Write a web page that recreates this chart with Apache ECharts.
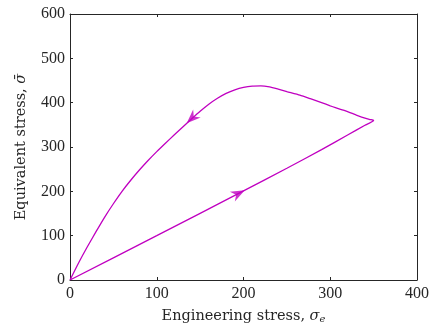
<!DOCTYPE html>
<html>
<head>
<meta charset="utf-8">
<script src="https://cdn.jsdelivr.net/npm/echarts@6/dist/echarts.min.js"></script>
<style>html,body{margin:0;padding:0;background:#fff}#c{width:432px;height:331px}</style>
</head>
<body>
<div id="c"></div>
<script>
// Loading path (engineering stress, equivalent stress)
var loadX = [0, 100, 200, 250, 290, 320, 340, 350];
var loadY = [0, 100, 201, 252, 294, 327, 349, 360];
// Unloading path
var unloadX = [350, 346, 342, 330, 315, 300, 290, 277, 265, 250, 240, 230, 220, 210, 200, 190, 180, 170, 160, 150, 140, 130, 120, 110, 100, 90, 80, 70, 60, 50, 40, 30, 20, 10, 0];
var unloadY = [360, 362, 364, 372, 383, 393, 400, 409, 417, 425, 430.5, 435.5, 438, 437.5, 434.5, 429, 421, 410, 396.5, 380.5, 363, 345, 327, 308.5, 289.5, 269.5, 248, 225, 200, 172, 142, 109, 75, 39, 0];
// Arrow markers (centre x, centre y, rotation in degrees)
var arrowX = [194.3, 140.4];
var arrowY = [195.3, 364.6];
var arrowRot = [-63, 133];

var xTicks = [0, 100, 200, 300, 400];
var yTicks = [0, 100, 200, 300, 400, 500, 600];

var color = '#c000c0';
var axisColor = '#262626';
var tickFont = 'Liberation Serif';
var nameFont = 'DejaVu Serif';

var path = [];
for (var i = 0; i < loadX.length; i++) path.push([loadX[i], loadY[i]]);
for (var j = 1; j < unloadX.length; j++) path.push([unloadX[j], unloadY[j]]);

var arrows = arrowX.map(function (x, k) {
  return { value: [x, arrowY[k]], symbolRotate: arrowRot[k] };
});

function axisBase(show, ticks) {
  return {
    type: 'value',
    min: ticks[0],
    max: ticks[ticks.length - 1],
    interval: ticks[1] - ticks[0],
    axisLine: { show: true, onZero: false, lineStyle: { color: axisColor, width: 1 } },
    axisTick: { show: true, inside: true, length: 3, lineStyle: { color: axisColor } },
    splitLine: { show: false },
    axisLabel: { show: show, color: axisColor, fontFamily: tickFont, fontSize: 16 }
  };
}

var xb = axisBase(true, xTicks);
xb.position = 'bottom';
xb.axisLabel.margin = 6;
xb.name = '{n|Engineering stress, }{s|σ}{e|e}';
xb.nameLocation = 'middle';
xb.nameGap = 23;
xb.nameTextStyle = {
  rich: {
    n: { fontFamily: nameFont, fontSize: 14.5, color: axisColor, lineHeight: 20 },
    s: { fontFamily: nameFont, fontSize: 14.5, fontStyle: 'italic', color: axisColor, lineHeight: 20 },
    e: { fontFamily: nameFont, fontSize: 10, fontStyle: 'italic', color: axisColor, lineHeight: 20, padding: [8, 0, 0, 0] }
  }
};
var xt = axisBase(false, xTicks);
xt.position = 'top';

var yl = axisBase(true, yTicks);
yl.position = 'left';
yl.axisLabel.margin = 5;
yl.name = '{n|Equivalent stress, }{s|σ\u0304}';
yl.nameLocation = 'middle';
yl.nameGap = 39;
yl.nameTextStyle = {
  rich: {
    n: { fontFamily: nameFont, fontSize: 14.5, color: axisColor, lineHeight: 20 },
    s: { fontFamily: nameFont, fontSize: 14.5, fontStyle: 'italic', color: axisColor, lineHeight: 20 }
  }
};
var yr = axisBase(false, yTicks);
yr.position = 'right';

var chart = echarts.init(document.getElementById('c'), null, { renderer: 'canvas' });
chart.setOption({
  animation: false,
  backgroundColor: '#fff',
  grid: { left: 70, right: 15, top: 14, bottom: 51, containLabel: false },
  xAxis: [xb, xt],
  yAxis: [yl, yr],
  series: [
    {
      type: 'line', xAxisIndex: 0, yAxisIndex: 0,
      data: path, showSymbol: false, symbol: 'none', smooth: 0.2,
      lineStyle: { color: color, width: 1.3 }
    },
    {
      type: 'scatter', xAxisIndex: 0, yAxisIndex: 0,
      data: arrows,
      symbol: 'path://M0 0 L5 13 L0 9 L-5 13 Z',
      symbolSize: [11, 14],
      itemStyle: { color: color }
    }
  ]
});
</script>
</body>
</html>
